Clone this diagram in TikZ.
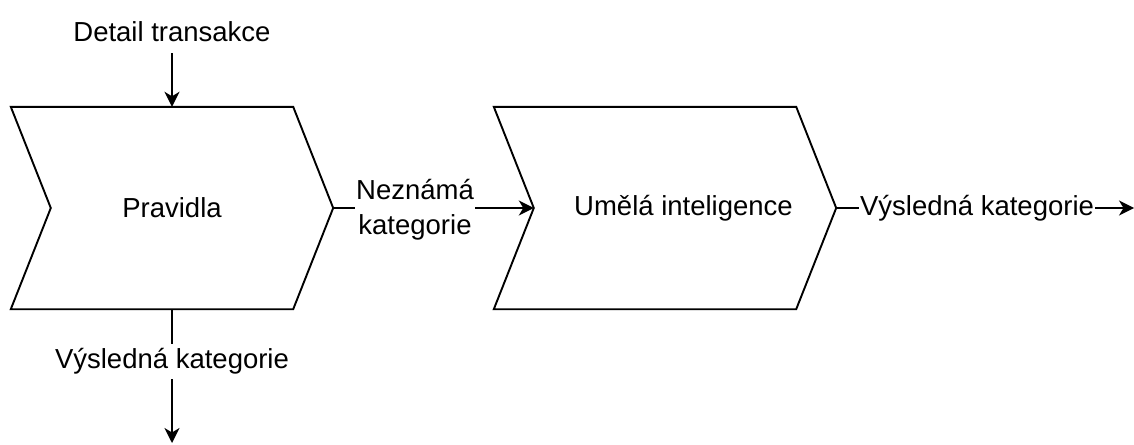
\documentclass[tikz,border=0pt]{standalone}
\usepackage{fontspec}
\setmainfont{Liberation Sans}
\usetikzlibrary{arrows.meta,calc}
\begin{document}
\begin{tikzpicture}[x=1pt,y=-1pt,
  stage/.style={draw=none, minimum width=#1, minimum height=202pt, inner sep=0pt,
                font=\fontsize{27.5}{35}\selectfont},
  lbl/.style={font=\fontsize{27.5}{35}\selectfont, inner sep=1pt, align=center},
  gap/.style={lbl, fill=white, minimum height=35pt},
  edge/.style={line width=1.9pt},
  flow/.style={edge, -{Stealth[length=15pt,width=15pt,inset=4.5pt]}},
  chevron/.style={edge, line join=miter}
]
\useasboundingbox (0,0) rectangle (1134,444);

% the two processing stages
\node[stage=322pt] (rules) at (172,208) {Pravidla};
\node[stage=342pt] (ai) at (665,208) {};
\node[lbl] (aitext) at (683.5,208) {Umělá inteligence};

\draw[chevron] (rules.north west) -- ($(rules.north east)+(-40,0)$) -- (rules.east)
  -- ($(rules.south east)+(-40,0)$) -- (rules.south west) -- ($(rules.west)+(40,0)$) -- cycle;
\draw[chevron] (ai.north west) -- ($(ai.north east)+(-40,0)$) -- (ai.east)
  -- ($(ai.south east)+(-40,0)$) -- (ai.south west) -- ($(ai.west)+(40,0)$) -- cycle;

\coordinate (ainotch) at ($(ai.west)+(40,0)$);
\coordinate (outdown) at (172,443);
\coordinate (outright) at (1134,208);

% input
\node[lbl] (detail) at (172,32) {Detail transakce};
\draw[flow, shorten <=10pt] (detail.south) -- (rules.north);

% rules -> AI for unknown categories
\draw[flow] (rules.east) -- (ainotch);
\node[lbl, fill=white] (unknown) at (415,210) {Neznámá\\kategorie};

% results
\draw[flow] (rules.south) -- (outdown);
\node[gap] (res1) at (172,361) {Výsledná kategorie};

\draw[flow] (ai.east) -- (outright);
\node[gap] (res2) at (977,208) {Výsledná kategorie};
\end{tikzpicture}
\end{document}
